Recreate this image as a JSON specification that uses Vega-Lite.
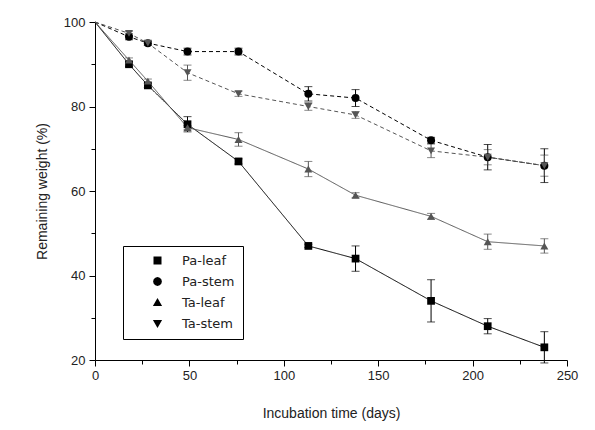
{
  "$schema": "https://vega.github.io/schema/vega-lite/v6.json",
  "width": 472,
  "height": 338,
  "autosize": "none",
  "padding": {"left": 95, "top": 22, "right": 28, "bottom": 70},
  "background": "white",
  "config": {
    "view": {"stroke": null},
    "axis": {"labelFont": "Liberation Sans", "titleFont": "Liberation Sans", "labelFontSize": 13, "titleFontSize": 14, "titleFontWeight": "normal", "labelColor": "#222", "titleColor": "#222", "domainColor": "#000", "tickColor": "#000", "grid": false}
  },
  "data": {"values": [
    {"series": "Pa-leaf", "day": 0, "w": 100, "lo": null, "hi": null},
    {"series": "Pa-leaf", "day": 18, "w": 90, "lo": 89.5, "hi": 90.5},
    {"series": "Pa-leaf", "day": 28, "w": 85, "lo": 84.5, "hi": 85.5},
    {"series": "Pa-leaf", "day": 49, "w": 75.8, "lo": 74, "hi": 77.6},
    {"series": "Pa-leaf", "day": 76, "w": 67, "lo": 66.4, "hi": 67.6},
    {"series": "Pa-leaf", "day": 113, "w": 47, "lo": 46.6, "hi": 47.4},
    {"series": "Pa-leaf", "day": 138, "w": 44, "lo": 41, "hi": 47},
    {"series": "Pa-leaf", "day": 178, "w": 34, "lo": 29, "hi": 39},
    {"series": "Pa-leaf", "day": 208, "w": 28, "lo": 26.2, "hi": 29.8},
    {"series": "Pa-leaf", "day": 238, "w": 23, "lo": 19.3, "hi": 26.7},
    {"series": "Pa-stem", "day": 0, "w": 100, "lo": null, "hi": null},
    {"series": "Pa-stem", "day": 18, "w": 96.5, "lo": 95.8, "hi": 97.2},
    {"series": "Pa-stem", "day": 28, "w": 95, "lo": 94.5, "hi": 95.5},
    {"series": "Pa-stem", "day": 49, "w": 93, "lo": 92.2, "hi": 93.8},
    {"series": "Pa-stem", "day": 76, "w": 93, "lo": 92.2, "hi": 93.8},
    {"series": "Pa-stem", "day": 113, "w": 83, "lo": 81.3, "hi": 84.7},
    {"series": "Pa-stem", "day": 138, "w": 82, "lo": 80, "hi": 84},
    {"series": "Pa-stem", "day": 178, "w": 72, "lo": 71.3, "hi": 72.7},
    {"series": "Pa-stem", "day": 208, "w": 68, "lo": 65, "hi": 71},
    {"series": "Pa-stem", "day": 238, "w": 66, "lo": 62, "hi": 70},
    {"series": "Ta-leaf", "day": 0, "w": 100, "lo": null, "hi": null},
    {"series": "Ta-leaf", "day": 18, "w": 91, "lo": 90.5, "hi": 91.5},
    {"series": "Ta-leaf", "day": 28, "w": 86, "lo": 85.5, "hi": 86.5},
    {"series": "Ta-leaf", "day": 49, "w": 75, "lo": 74.5, "hi": 75.5},
    {"series": "Ta-leaf", "day": 76, "w": 72.2, "lo": 70.6, "hi": 73.8},
    {"series": "Ta-leaf", "day": 113, "w": 65.2, "lo": 63.4, "hi": 67},
    {"series": "Ta-leaf", "day": 138, "w": 59, "lo": 58.4, "hi": 59.6},
    {"series": "Ta-leaf", "day": 178, "w": 54, "lo": 53.3, "hi": 54.7},
    {"series": "Ta-leaf", "day": 208, "w": 48, "lo": 46.2, "hi": 49.8},
    {"series": "Ta-leaf", "day": 238, "w": 47, "lo": 45.3, "hi": 48.7},
    {"series": "Ta-stem", "day": 0, "w": 100, "lo": null, "hi": null},
    {"series": "Ta-stem", "day": 18, "w": 97.3, "lo": 96.8, "hi": 97.8},
    {"series": "Ta-stem", "day": 28, "w": 95, "lo": 94.5, "hi": 95.5},
    {"series": "Ta-stem", "day": 49, "w": 88, "lo": 86.2, "hi": 89.8},
    {"series": "Ta-stem", "day": 76, "w": 83, "lo": 82.4, "hi": 83.6},
    {"series": "Ta-stem", "day": 113, "w": 80, "lo": 79.1, "hi": 80.9},
    {"series": "Ta-stem", "day": 138, "w": 78, "lo": 77.2, "hi": 78.8},
    {"series": "Ta-stem", "day": 178, "w": 69.5, "lo": 67.9, "hi": 71.1},
    {"series": "Ta-stem", "day": 208, "w": 68, "lo": 66.2, "hi": 69.8},
    {"series": "Ta-stem", "day": 238, "w": 66, "lo": 63.5, "hi": 68.5}
  ]},
  "encoding": {
    "x": {"field": "day", "type": "quantitative", "scale": {"domain": [0, 250], "nice": false},
      "axis": {"title": "Incubation time (days)", "values": [0,25,50,75,100,125,150,175,200,225,250],
        "labelExpr": "datum.value % 50 === 0 ? datum.label : ''",
        "tickSize": {"condition": {"test": "datum.value % 50 !== 0", "value": 4}, "value": 6},
        "labelPadding": 3, "titlePadding": 24, "labelFlush": false}}
  },
  "layer": [
    {
      "mark": {"type": "line", "strokeWidth": 1},
      "encoding": {
        "y": {"field": "w", "type": "quantitative", "scale": {"domain": [20, 100], "nice": false, "zero": false},
          "axis": {"title": "Remaining weight (%)", "values": [20,30,40,50,60,70,80,90,100],
            "labelExpr": "datum.value % 20 === 0 ? datum.label : ''",
            "tickSize": {"condition": {"test": "datum.value % 20 !== 0", "value": 4}, "value": 6},
            "labelPadding": 4, "titlePadding": 14, "labelFlush": false}},
        "color": {"field": "series", "type": "nominal", "legend": null,
          "scale": {"range": ["#000000", "#000000", "#555555", "#555555"]}},
        "strokeDash": {"field": "series", "type": "nominal", "legend": null,
          "scale": {"range": [[1, 0], [4, 3], [1, 0], [4, 3]]}}
      }
    },
    {
      "transform": [{"filter": "datum.lo != null"}],
      "mark": {"type": "errorbar", "ticks": {"size": 8}, "thickness": 1},
      "encoding": {
        "y": {"field": "lo", "type": "quantitative", "title": "Remaining weight (%)"},
        "y2": {"field": "hi"},
        "color": {"field": "series", "type": "nominal", "legend": null}
      }
    },
    {
      "transform": [{"filter": "datum.day > 0 && datum.series === 'Pa-leaf'"}],
      "mark": {"type": "point", "filled": true, "opacity": 1, "size": 60, "shape": "square", "color": "#000000"},
      "encoding": {"y": {"field": "w", "type": "quantitative"}}
    },
    {
      "transform": [{"filter": "datum.day > 0 && datum.series === 'Pa-stem'"}],
      "mark": {"type": "point", "filled": true, "opacity": 1, "size": 64, "shape": "circle", "color": "#000000"},
      "encoding": {"y": {"field": "w", "type": "quantitative"}}
    },
    {
      "transform": [{"filter": "datum.day > 0 && datum.series === 'Ta-leaf'"}],
      "mark": {"type": "point", "filled": true, "opacity": 1, "size": 64, "shape": "triangle-up", "color": "#555555"},
      "encoding": {"y": {"field": "w", "type": "quantitative"}}
    },
    {
      "transform": [{"filter": "datum.day > 0 && datum.series === 'Ta-stem'"}],
      "mark": {"type": "point", "filled": true, "opacity": 1, "size": 64, "shape": "triangle-down", "color": "#555555"},
      "encoding": {"y": {"field": "w", "type": "quantitative"}}
    },
    {
      "transform": [{"filter": "datum.day > 0"}],
      "mark": {"type": "point", "filled": true, "opacity": 0, "color": "#000000"},
      "encoding": {
        "y": {"field": "w", "type": "quantitative"},
        "shape": {"field": "series", "type": "nominal",
          "scale": {"domain": ["Pa-leaf", "Pa-stem", "Ta-leaf", "Ta-stem"],
            "range": [
              "M-5.4,0L-1,0M1,0L5.4,0M-1,-1L1,-1L1,1L-1,1Z",
              "M-5.4,0L-4.4,0M-3.6,0L-2.6,0M-1.8,0L-1.2,0M1.4,0L2.4,0M3.2,0L4.2,0M1.1,0L0.95,0.55L0.55,0.95L0,1.1L-0.55,0.95L-0.95,0.55L-1.1,0L-0.95,-0.55L-0.55,-0.95L0,-1.1L0.55,-0.95L0.95,-0.55Z",
              "M-5.4,0L-1,0M1,0L5.4,0M0,-1.1L1.15,0.9L-1.15,0.9Z",
              "M-5.4,0L-4.4,0M-3.6,0L-2.6,0M-1.8,0L-1.2,0M1.4,0L2.4,0M3.2,0L4.2,0M0,1.1L1.15,-0.9L-1.15,-0.9Z"
            ]},
          "legend": {"orient": "none", "legendX": 28, "legendY": 224, "title": null,
            "strokeColor": "#000000", "fillColor": "#ffffff", "padding": 8,
            "symbolSize": 64, "symbolOffset": 20, "labelOffset": 18, "rowPadding": 7,
            "labelFont": "DejaVu Sans", "labelFontSize": 13, "labelColor": "#222",
            "symbolStrokeWidth": 1, "symbolOpacity": 1,
            "encode": {"symbols": {"update": {
              "fill": {"value": {"expr": "indexof(['Ta-leaf','Ta-stem'], datum.value) >= 0 ? '#555555' : '#000000'"}},
              "stroke": {"value": {"expr": "indexof(['Ta-leaf','Ta-stem'], datum.value) >= 0 ? '#555555' : '#000000'"}},
              "opacity": {"value": 1}, "strokeWidth": {"value": 1}}}}}}
      }
    }
  ]
}
